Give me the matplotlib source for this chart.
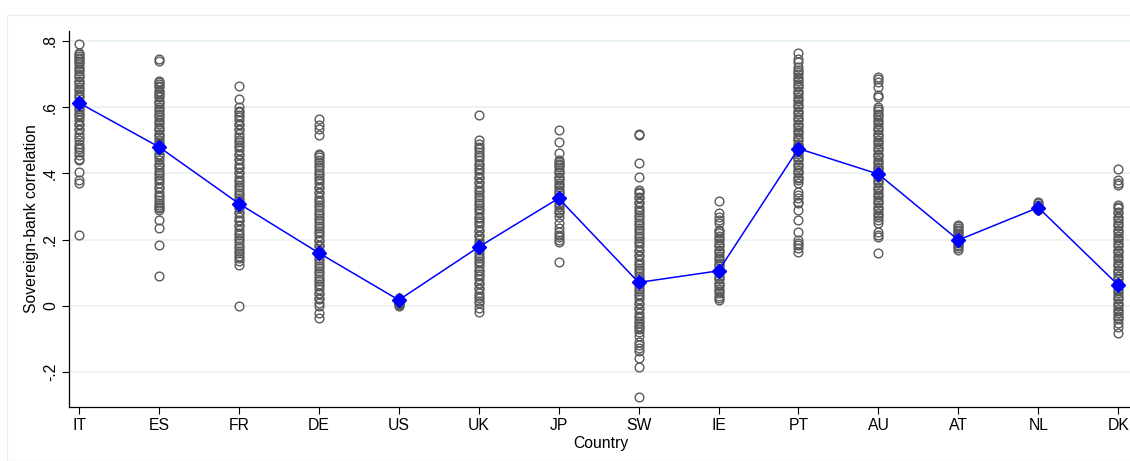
import matplotlib
matplotlib.use("Agg")
import matplotlib.pyplot as plt
from matplotlib.patches import Rectangle

plt.rcParams['font.family'] = ['Liberation Sans', 'DejaVu Sans']

countries = ["IT", "ES", "FR", "DE", "US", "UK", "JP", "SW", "IE", "PT", "AU", "AT", "NL", "DK"]

it_vals = [0.79, 0.765, 0.76, 0.755, 0.75, 0.745, 0.74, 0.735, 0.73, 0.72, 0.715, 0.71, 0.70, 0.695, 0.69,
           0.68, 0.675, 0.67, 0.66, 0.655, 0.65, 0.64, 0.635, 0.63, 0.62, 0.615, 0.61, 0.60, 0.595, 0.59,
           0.58, 0.575, 0.57, 0.56, 0.55, 0.545, 0.535, 0.53, 0.52, 0.51, 0.50, 0.49, 0.48, 0.475, 0.465,
           0.455, 0.445, 0.44, 0.405, 0.38, 0.37, 0.215]
es_vals = [0.745, 0.74, 0.68, 0.675, 0.67, 0.665, 0.66, 0.65, 0.645, 0.64, 0.635, 0.63, 0.62, 0.615, 0.61,
           0.60, 0.595, 0.59, 0.58, 0.575, 0.57, 0.56, 0.555, 0.55, 0.54, 0.535, 0.53, 0.52, 0.515, 0.51,
           0.50, 0.495, 0.49, 0.48, 0.475, 0.47, 0.46, 0.455, 0.45, 0.44, 0.43, 0.425, 0.42, 0.41, 0.40,
           0.395, 0.385, 0.38, 0.37, 0.36, 0.355, 0.345, 0.335, 0.33, 0.32, 0.31, 0.305, 0.30, 0.295, 0.29,
           0.26, 0.235, 0.185, 0.09]
fr_vals = [0.665, 0.625, 0.60, 0.59, 0.585, 0.575, 0.57, 0.56, 0.55, 0.545, 0.535, 0.53, 0.52, 0.51, 0.50,
           0.495, 0.485, 0.48, 0.47, 0.46, 0.455, 0.445, 0.44, 0.43, 0.42, 0.415, 0.405, 0.40, 0.39, 0.38,
           0.375, 0.365, 0.36, 0.35, 0.34, 0.335, 0.325, 0.32, 0.31, 0.30, 0.295, 0.285, 0.28, 0.27, 0.26,
           0.255, 0.245, 0.24, 0.23, 0.22, 0.215, 0.205, 0.20, 0.19, 0.18, 0.175, 0.165, 0.16, 0.15, 0.145,
           0.135, 0.125, 0.0]
de_vals = [0.565, 0.545, 0.535, 0.515, 0.46, 0.455, 0.45, 0.44, 0.435, 0.425, 0.42, 0.41, 0.40, 0.395, 0.385,
           0.38, 0.37, 0.36, 0.355, 0.345, 0.34, 0.33, 0.32, 0.315, 0.305, 0.30, 0.29, 0.28, 0.275, 0.265,
           0.26, 0.25, 0.24, 0.235, 0.225, 0.22, 0.21, 0.20, 0.195, 0.185, 0.18, 0.17, 0.16, 0.155, 0.145,
           0.14, 0.13, 0.12, 0.115, 0.105, 0.10, 0.09, 0.08, 0.075, 0.065, 0.06, 0.05, 0.04, 0.035, 0.025,
           0.02, 0.01, 0.0, -0.02, -0.035]
us_vals = [0.025, 0.022, 0.02, 0.018, 0.015, 0.012, 0.01, 0.008, 0.005, 0.002, 0.0]
uk_vals = [0.577, 0.501, 0.49, 0.48, 0.475, 0.465, 0.455, 0.45, 0.44, 0.43, 0.425, 0.415, 0.41, 0.40, 0.39,
           0.385, 0.375, 0.37, 0.36, 0.35, 0.345, 0.335, 0.33, 0.32, 0.31, 0.305, 0.295, 0.29, 0.28, 0.27,
           0.265, 0.255, 0.25, 0.24, 0.23, 0.225, 0.215, 0.21, 0.20, 0.19, 0.185, 0.175, 0.17, 0.16, 0.15,
           0.145, 0.135, 0.13, 0.12, 0.11, 0.105, 0.095, 0.09, 0.08, 0.07, 0.065, 0.055, 0.05, 0.04, 0.03,
           0.025, 0.015, 0.009, -0.005, -0.017]
jp_vals = [0.531, 0.496, 0.461, 0.44, 0.435, 0.43, 0.425, 0.42, 0.41, 0.405, 0.40, 0.39, 0.385, 0.38, 0.37,
           0.365, 0.36, 0.35, 0.345, 0.34, 0.33, 0.325, 0.32, 0.31, 0.305, 0.30, 0.29, 0.285, 0.28, 0.27,
           0.25, 0.235, 0.224, 0.215, 0.209, 0.20, 0.194, 0.134]
sw_vals = [0.52, 0.515, 0.433, 0.389, 0.35, 0.345, 0.34, 0.33, 0.325, 0.315, 0.31, 0.30, 0.29, 0.285, 0.275,
           0.27, 0.26, 0.25, 0.245, 0.235, 0.23, 0.22, 0.21, 0.205, 0.195, 0.19, 0.18, 0.17, 0.165, 0.155,
           0.15, 0.14, 0.13, 0.125, 0.115, 0.11, 0.10, 0.09, 0.085, 0.075, 0.07, 0.06, 0.05, 0.045, 0.035,
           0.03, 0.02, 0.01, 0.005, -0.005, -0.01, -0.02, -0.03, -0.035, -0.045, -0.05, -0.06, -0.065, -0.07,
           -0.078, -0.09, -0.108, -0.118, -0.127, -0.135, -0.157, -0.183, -0.276]
ie_vals = [0.318, 0.28, 0.27, 0.26, 0.25, 0.229, 0.225, 0.22, 0.21, 0.205, 0.20, 0.19, 0.185, 0.18, 0.17,
           0.165, 0.16, 0.15, 0.145, 0.14, 0.13, 0.125, 0.12, 0.11, 0.105, 0.10, 0.09, 0.085, 0.08, 0.07,
           0.065, 0.06, 0.05, 0.045, 0.04, 0.03, 0.025, 0.018]
pt_vals = [0.763, 0.745, 0.735, 0.722, 0.712, 0.705, 0.70, 0.69, 0.685, 0.68, 0.67, 0.665, 0.66, 0.65, 0.645,
           0.64, 0.63, 0.625, 0.62, 0.61, 0.605, 0.60, 0.59, 0.585, 0.58, 0.57, 0.565, 0.56, 0.55, 0.545,
           0.54, 0.53, 0.525, 0.52, 0.51, 0.505, 0.50, 0.49, 0.485, 0.48, 0.47, 0.465, 0.46, 0.45, 0.445,
           0.44, 0.43, 0.425, 0.42, 0.41, 0.405, 0.40, 0.39, 0.385, 0.38, 0.37, 0.345, 0.335, 0.325, 0.315,
           0.31, 0.29, 0.26, 0.224, 0.20, 0.19, 0.184, 0.175, 0.164]
au_vals = [0.692, 0.685, 0.677, 0.662, 0.637, 0.63, 0.602, 0.595, 0.59, 0.58, 0.575, 0.57, 0.56, 0.555, 0.55,
           0.54, 0.535, 0.53, 0.52, 0.515, 0.51, 0.50, 0.495, 0.49, 0.48, 0.475, 0.47, 0.46, 0.455, 0.45,
           0.44, 0.435, 0.43, 0.42, 0.415, 0.41, 0.40, 0.395, 0.39, 0.38, 0.375, 0.37, 0.36, 0.355, 0.35,
           0.34, 0.335, 0.33, 0.32, 0.315, 0.31, 0.30, 0.295, 0.29, 0.28, 0.275, 0.27, 0.26, 0.25, 0.224,
           0.215, 0.209, 0.159]
at_vals = [0.245, 0.24, 0.235, 0.23, 0.225, 0.22, 0.215, 0.21, 0.205, 0.20, 0.195, 0.19, 0.185, 0.18, 0.175, 0.17]
nl_vals = [0.315, 0.31, 0.305, 0.30, 0.295, 0.29]
dk_vals = [0.413, 0.38, 0.372, 0.365, 0.305, 0.30, 0.295, 0.285, 0.28, 0.27, 0.265, 0.26, 0.25, 0.245, 0.24,
           0.23, 0.225, 0.22, 0.21, 0.205, 0.20, 0.19, 0.185, 0.18, 0.17, 0.165, 0.16, 0.15, 0.145, 0.14,
           0.13, 0.125, 0.12, 0.11, 0.105, 0.10, 0.09, 0.085, 0.08, 0.07, 0.065, 0.06, 0.05, 0.045, 0.04,
           0.03, 0.025, 0.02, 0.01, 0.005, 0.0, -0.01, -0.015, -0.02, -0.03, -0.035, -0.04, -0.052, -0.065,
           -0.082]

means = [0.613, 0.480, 0.309, 0.160, 0.018, 0.178, 0.325, 0.071, 0.106, 0.475, 0.398, 0.199, 0.297, 0.063]

yticks = [-0.2, 0.0, 0.2, 0.4, 0.6, 0.8]
ytick_labels = ["-.2", "0", ".2", ".4", ".6", ".8"]

all_vals = [it_vals, es_vals, fr_vals, de_vals, us_vals, uk_vals, jp_vals, sw_vals,
            ie_vals, pt_vals, au_vals, at_vals, nl_vals, dk_vals]

W, H = 1130, 461
fig = plt.figure(figsize=(W / 100, H / 100), dpi=100)
fig.patch.set_facecolor("white")
fig.add_artist(Rectangle((7 / W, 0), 1.2, 1 - 15 / H, transform=fig.transFigure,
                         fill=False, edgecolor="#e9eef0", linewidth=1.0))

ax = fig.add_axes([69 / W, 54 / H, 1 - 69 / W + 0.002, (407 - 31) / H])
ax.set_facecolor("white")

for i, vals in enumerate(all_vals):
    ax.plot([i + 1] * len(vals), vals, linestyle="none", marker="o", markersize=6.3,
            markerfacecolor="none", markeredgecolor="#5a5a5a", markeredgewidth=1.0, zorder=3)

pos = list(range(1, len(countries) + 1))
ax.plot(pos, means, color="#0000ff", linewidth=1.1, marker="D", markersize=7.5,
        markerfacecolor="#0000ff", markeredgecolor="#0000ff", zorder=4)

ax.set_xlim(1 - 10 / 79.77, 14 + 14 / 79.77)
ax.set_ylim(-0.305, 0.830)

ax.set_yticks(yticks)
ax.set_yticklabels(ytick_labels, rotation=90, va="center", fontsize=11.3)
ax.set_xticks(pos)
ax.set_xticklabels(countries, fontsize=11.3)
ax.tick_params(axis="both", direction="out", length=5, width=0.8, color="black", pad=3)

ax.yaxis.grid(True, color="#eaf2f3", linewidth=1.3)
ax.set_axisbelow(True)
for s in ["top", "right"]:
    ax.spines[s].set_visible(False)
for s in ["left", "bottom"]:
    ax.spines[s].set_linewidth(0.9)
    ax.spines[s].set_color("black")

ax.set_ylabel("Sovereign-bank correlation", fontsize=11.3, labelpad=3)
ax.set_xlabel("Country", fontsize=11.3, labelpad=2)

fig.savefig("out.png", dpi=100, facecolor="white")
